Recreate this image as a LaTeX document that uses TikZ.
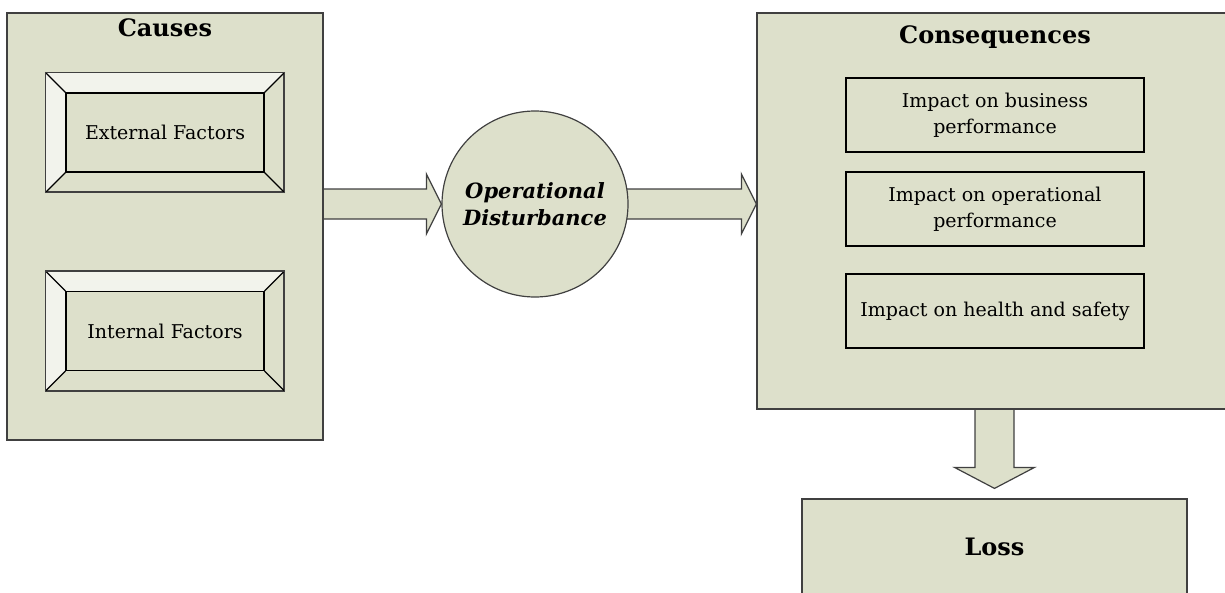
\documentclass[tikz,border=0pt]{standalone}
\usepackage{fontspec}
\setmainfont{DejaVu Serif}
\usetikzlibrary{calc,positioning,backgrounds}
\definecolor{dbolive}{RGB}{221,224,203}
\definecolor{dblight}{RGB}{242,243,236}
\definecolor{dbline}{RGB}{64,64,64}

\begin{document}
\begin{tikzpicture}[
        x=1pt, y=-1pt,
        font=\fontsize{19}{26}\selectfont,
        panel/.style={draw=dbline, fill=dbolive, line width=1.2pt, inner sep=0pt},
        heading/.style={font=\fontsize{24}{28}\selectfont\bfseries, inner sep=0pt},
        frame/.style={panel, minimum width=238pt, minimum height=119pt},
        face/.style={panel, draw=black, minimum width=198pt, minimum height=79pt},
        impact/.style={panel, draw=black, align=center, minimum width=298pt, minimum height=74pt},
        fat/.style={draw=dbline, fill=dbolive, line width=1.2pt, line join=miter}
    ]
        \useasboundingbox (0,0) rectangle (1225,592);
        \clip (0,0) rectangle (1225,592);

        % causes
        \node[panel, minimum width=316pt, minimum height=427pt] (causes) at (165,226.5) {};
        \node[heading] (causeshd) at (165,28) {Causes};

        \foreach \n/\t/\y in {ext/External Factors/132.5, int/Internal Factors/331}{
            \node[frame] (\n-frame) at (165,\y) {};
            \fill[dblight] (\n-frame.north west) -- (\n-frame.north east) -- ++(-20,20)
                -- ($(\n-frame.north west)+(20,20)$) -- ($(\n-frame.south west)+(20,-20)$)
                -- (\n-frame.south west) -- cycle;
            \foreach \c/\dx/\dy in {north west/20/20, north east/-20/20, south east/-20/-20, south west/20/-20}
                {\draw[black, line width=1.2pt] (\n-frame.\c) -- ++(\dx,\dy);}
            \draw[dbline, line width=1.2pt] (\n-frame.north west) rectangle (\n-frame.south east);
            \node[face] (\n) at (\n-frame.center) {\t};
        }

        % disturbance
        \node[panel, circle, minimum size=186pt, align=center,
              font=\fontsize{21}{27}\selectfont\bfseries\itshape] (dist) at (535,204)
              {Operational\\Disturbance};

        % consequences
        \node[panel, minimum width=476pt, minimum height=396pt] (conseq) at (995,211) {};
        \node[heading] (conseqhd) at (995,37) {Consequences};
        \node[impact] (busi) at (995,115) {Impact on business\\performance};
        \node[impact] (oper) at (995,209) {Impact on operational\\performance};
        \node[impact] (hse)  at (995,311) {Impact on health and safety};

        % loss
        \node[panel, heading, minimum width=385pt, minimum height=96pt] (loss) at (994.5,547) {Loss};

        % block arrows
        \begin{scope}[on background layer]
            \draw[fat] ($(causes.east |- dist.west)+(0,-15)$) -- ($(dist.west)+(-15,-15)$) -- ++(0,-15)
                -- (dist.west) -- ($(dist.west)+(-15,30)$) -- ++(0,-15)
                -- ($(causes.east |- dist.west)+(0,15)$);
            \draw[fat] ($(dist.center)+(0,-15)$) -- ($(conseq.west |- dist)+(-15,-15)$) -- ++(0,-15)
                -- (conseq.west |- dist) -- ($(conseq.west |- dist)+(-15,30)$) -- ++(0,-15)
                -- ($(dist.center)+(0,15)$);
            \draw[fat] ($(loss.north |- conseq.south)+(-19.5,0)$) -- ($(loss.north)+(-19.5,-31)$) -- ++(-20.5,0)
                -- ($(loss.north)+(0,-10)$) -- ($(loss.north)+(40,-31)$) -- ++(-20.5,0)
                -- ($(loss.north |- conseq.south)+(19.5,0)$);
        \end{scope}
    \end{tikzpicture}
\end{document}
